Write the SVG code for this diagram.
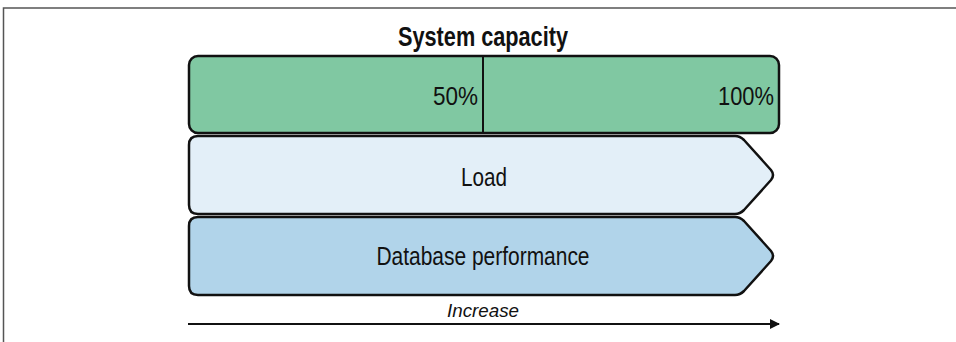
<svg xmlns="http://www.w3.org/2000/svg" width="956" height="342" viewBox="0 0 956 342">
<defs>
<style>
.t{font-family:"Liberation Sans",Arial,sans-serif;fill:#111}
.lbl{font-size:25px}
.box{stroke:#111;stroke-width:2.5;stroke-linejoin:round}
</style>
<marker id="ah" viewBox="0 0 10 10" refX="9" refY="5" markerWidth="10" markerHeight="10" markerUnits="userSpaceOnUse" orient="auto">
<path d="M0,0 L10,5 L0,10 z" fill="#111"/>
</marker>
</defs>
<rect width="956" height="342" fill="#fff"/>
<path d="M3.5,342 V8 H956" fill="none" stroke="#555" stroke-width="1.5"/>
<text class="t" x="483" y="46" text-anchor="middle" font-size="27" font-weight="bold" textLength="170" lengthAdjust="spacingAndGlyphs">System capacity</text>
<g id="capacity">
<rect class="box" x="189" y="56" width="590" height="77" rx="9" fill="#80c8a2"/>
<line x1="483" y1="56" x2="483" y2="133" stroke="#111" stroke-width="2"/>
<text class="t lbl" x="478" y="105" text-anchor="end" textLength="45" lengthAdjust="spacingAndGlyphs">50%</text>
<text class="t lbl" x="774" y="105" text-anchor="end" textLength="56" lengthAdjust="spacingAndGlyphs">100%</text>
</g>
<g id="load">
<path class="box" d="M198,136 H735 Q740,136 744,140 L771,170 Q775,175 771,180 L744,210 Q740,214 735,214 H198 Q189,214 189,205 V145 Q189,136 198,136 Z" fill="#e3eff8"/>
<text class="t lbl" x="484" y="186" text-anchor="middle" textLength="46" lengthAdjust="spacingAndGlyphs">Load</text>
</g>
<g id="database">
<path class="box" d="M198,217 H735 Q740,217 744,221 L771,251 Q775,256 771,261 L744,291 Q740,295 735,295 H198 Q189,295 189,286 V226 Q189,217 198,217 Z" fill="#b1d4ea"/>
<text class="t lbl" x="483" y="265" text-anchor="middle" textLength="213" lengthAdjust="spacingAndGlyphs">Database performance</text>
</g>
<g id="connectors">
<line x1="188" y1="324" x2="779" y2="324" stroke="#111" stroke-width="2" marker-end="url(#ah)"/>
<text class="t" x="483" y="317" text-anchor="middle" font-size="19" font-style="italic" textLength="72" lengthAdjust="spacingAndGlyphs">Increase</text>
</g>
</svg>
